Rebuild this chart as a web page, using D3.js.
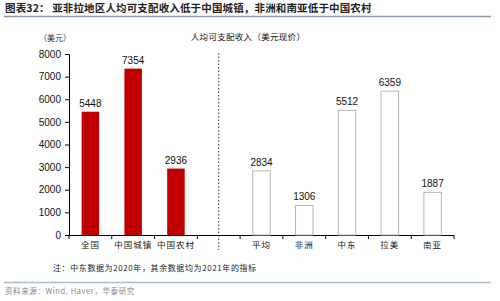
<!DOCTYPE html>
<html>
<head>
<meta charset="utf-8">
<script src="https://d3js.org/d3.v7.min.js"></script>
<style>
  body { margin: 0; background: #fff; }
  svg { display: block; }
</style>
</head>
<body>
<svg width="500" height="301"></svg>
<script>
// categories: blank slot "" holds the dotted divider
var categories = ["全国", "中国城镇", "中国农村", "", "平均", "非洲", "中东", "拉美", "南亚"];
var values     = [5448, 7354, 2936, null, 2834, 1306, 5512, 6359, 1887];
var china      = ["全国", "中国城镇", "中国农村"];
var yTicks     = [0, 1000, 2000, 3000, 4000, 5000, 6000, 7000, 8000];

var cjk = "'Noto Sans CJK SC', sans-serif";
var latin = "Arial, 'Liberation Sans', sans-serif";

var svg = d3.select("svg");

// header
svg.append("text")
  .attr("x", 5).attr("y", 12)
  .style("font-family", cjk).style("font-size", "10.5px").style("font-weight", "bold")
  .style("letter-spacing", "0.15px")
  .attr("fill", "#222")
  .text("图表32：  亚非拉地区人均可支配收入低于中国城镇，非洲和南亚低于中国农村");

svg.append("line")
  .attr("x1", 4).attr("x2", 491).attr("y1", 16.5).attr("y2", 16.5)
  .attr("stroke", "#8a9bb0").attr("stroke-width", 1.5);

// plot
var x = d3.scaleBand().domain(categories).range([69, 454]).paddingInner(0).paddingOuter(0);
var y = d3.scaleLinear().domain([0, 8000]).range([235, 54]);
var bw = 17.5;

svg.append("text")
  .attr("x", 55).attr("y", 41).attr("text-anchor", "middle")
  .style("font-family", cjk).style("font-size", "8px").attr("fill", "#333")
  .text("（美元）");

svg.append("text")
  .attr("x", 248).attr("y", 40).attr("text-anchor", "middle")
  .style("font-family", cjk).style("font-size", "8.5px").style("letter-spacing", "0.3px").attr("fill", "#111")
  .text("人均可支配收入（美元现价）");

// y axis
var yAxis = svg.append("g")
  .attr("transform", "translate(69,0)")
  .call(d3.axisLeft(y).tickValues(yTicks).tickSize(4).tickPadding(4).tickFormat(d3.format("d")));
yAxis.selectAll("text").style("font-family", latin).style("font-size", "10px").attr("fill", "#111");
yAxis.selectAll("line, path").attr("stroke", "#000");

// x axis
var xAxis = svg.append("g")
  .attr("transform", "translate(0,235)")
  .call(d3.axisBottom(x).tickSize(0).tickPadding(7).tickFormat(function(d) { return d; }));
xAxis.select("path").attr("stroke", "#000").attr("d", "M69,0.5H454");
xAxis.selectAll("text").style("font-family", cjk).style("font-size", "8.5px")
  .style("letter-spacing", "1px").attr("fill", "#222");

// tick marks between categories
var edges = categories.map(function(c) { return x(c); }).concat([x.range()[1]]);
svg.append("g").selectAll("line").data(edges).enter().append("line")
  .attr("x1", function(d) { return d; }).attr("x2", function(d) { return d; })
  .attr("y1", 235).attr("y2", 239)
  .attr("stroke", "#000");

// bars
var rows = categories.map(function(c, i) { return { cat: c, v: values[i] }; })
  .filter(function(d) { return d.v != null; });

svg.append("g").selectAll("rect").data(rows).enter().append("rect")
  .attr("x", function(d) { return x(d.cat) + x.bandwidth() / 2 - bw / 2; })
  .attr("y", function(d) { return y(d.v); })
  .attr("width", bw)
  .attr("height", function(d) { return y(0) - y(d.v); })
  .attr("fill", function(d) { return china.indexOf(d.cat) >= 0 ? "#c00000" : "#fff"; })
  .attr("stroke", function(d) { return china.indexOf(d.cat) >= 0 ? "none" : "#b5b5b5"; });

// value labels
svg.append("g").selectAll("text").data(rows).enter().append("text")
  .attr("x", function(d) { return x(d.cat) + x.bandwidth() / 2; })
  .attr("y", function(d) { return y(d.v) - 5; })
  .attr("text-anchor", "middle")
  .style("font-family", latin).style("font-size", "10px").attr("fill", "#111")
  .text(function(d) { return d.v; });

// dotted divider
var mid = x("") + x.bandwidth() / 2;
svg.append("line")
  .attr("x1", mid).attr("x2", mid).attr("y1", 53).attr("y2", 250)
  .attr("stroke", "#333").attr("stroke-width", 1).attr("stroke-dasharray", "1.5,2");

// note
svg.append("text")
  .attr("x", 53).attr("y", 271)
  .style("font-family", cjk).style("font-size", "8px").style("letter-spacing", "0.6px").attr("fill", "#222")
  .text("注：中东数据为2020年，其余数据均为2021年的指标");

svg.append("line")
  .attr("x1", 4).attr("x2", 491).attr("y1", 282.5).attr("y2", 282.5)
  .attr("stroke", "#a9bccd").attr("stroke-width", 1.5);

svg.append("text")
  .attr("x", 5).attr("y", 294)
  .style("font-family", cjk).style("font-size", "7.5px").style("letter-spacing", "0.6px").attr("fill", "#888")
  .text("资料来源：Wind, Haver，华泰研究");
</script>
</body>
</html>
